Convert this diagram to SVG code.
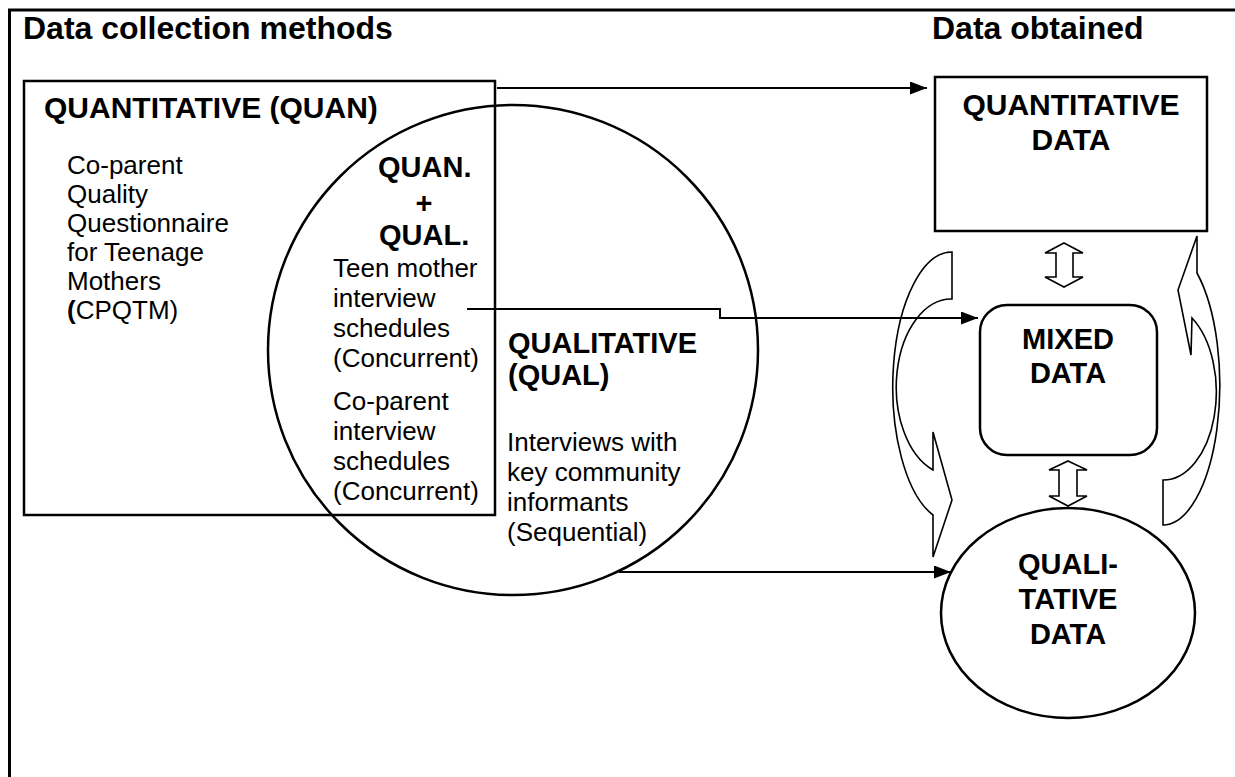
<svg xmlns="http://www.w3.org/2000/svg" width="1235" height="777" viewBox="0 0 1235 777">
  <defs>
    <marker id="head" markerUnits="userSpaceOnUse" markerWidth="17" markerHeight="13" refX="17" refY="6.5" orient="auto">
      <path d="M0,0 L17,6.5 L0,13 Z" fill="#000"/>
    </marker>
    <style>
      text { font-family: "Liberation Sans", Arial, sans-serif; fill: #000; }
      .title { font-size: 32px; font-weight: bold; }
      .sub { font-size: 30px; font-weight: bold; }
      .head { font-size: 29px; font-weight: bold; }
      .body { font-size: 26px; }
      .mid { text-anchor: middle; }
      .edge { fill: none; stroke: #000; stroke-width: 2.5; }
      .conn { fill: none; stroke: #000; stroke-width: 2; }
      .block { fill: none; stroke: #000; stroke-width: 1.6; stroke-linejoin: miter; }
    </style>
  </defs>

  <rect width="1235" height="777" fill="#fff"/>

  <!-- page frame: left and top rules only -->
  <path d="M9.5,777 V10 H1235" fill="none" stroke="#000" stroke-width="3"/>

  <text class="title" x="23" y="39">Data collection methods</text>
  <text class="title" x="932" y="39">Data obtained</text>

  <!-- quantitative method box -->
  <g id="quan-box">
    <rect class="edge" x="24" y="81" width="471" height="434"/>
    <text class="sub" x="44" y="118">QUANTITATIVE (QUAN)</text>
    <text class="body" x="67" y="174">Co-parent</text>
    <text class="body" x="67" y="203">Quality</text>
    <text class="body" x="67" y="232">Questionnaire</text>
    <text class="body" x="67" y="261">for Teenage</text>
    <text class="body" x="67" y="290">Mothers</text>
    <text class="body" x="67" y="319"><tspan font-weight="bold">(</tspan>CPQTM)</text>
  </g>

  <!-- qualitative method circle, overlapping the box -->
  <g id="qual-circle">
    <circle class="edge" cx="513" cy="350" r="245"/>
    <text class="head" x="378" y="177">QUAN.</text>
    <text class="head mid" x="424" y="213">+</text>
    <text class="head" x="379" y="245">QUAL.</text>
    <text class="body" x="333" y="277">Teen mother</text>
    <text class="body" x="333" y="307">interview</text>
    <text class="body" x="333" y="337">schedules</text>
    <text class="body" x="333" y="367">(Concurrent)</text>
    <text class="body" x="333" y="410">Co-parent</text>
    <text class="body" x="333" y="440">interview</text>
    <text class="body" x="333" y="470">schedules</text>
    <text class="body" x="333" y="500">(Concurrent)</text>
    <text class="head" x="508" y="353">QUALITATIVE</text>
    <text class="head" x="508" y="385">(QUAL)</text>
    <text class="body" x="507" y="451">Interviews with</text>
    <text class="body" x="507" y="481">key community</text>
    <text class="body" x="507" y="511">informants</text>
    <text class="body" x="507" y="541">(Sequential)</text>
  </g>

  <g id="quan-data">
    <rect class="edge" x="935" y="77" width="272" height="154"/>
    <text class="sub mid" x="1071" y="115">QUANTITATIVE</text>
    <text class="sub mid" x="1071" y="150">DATA</text>
  </g>

  <g id="mixed-data">
    <rect class="edge" x="980" y="305" width="177" height="150" rx="27" ry="27"/>
    <text class="head mid" x="1068" y="349">MIXED</text>
    <text class="head mid" x="1068" y="383">DATA</text>
  </g>

  <g id="qual-data">
    <ellipse class="edge" cx="1068" cy="613" rx="127" ry="105"/>
    <text class="head mid" x="1068" y="574">QUALI-</text>
    <text class="head mid" x="1068" y="609">TATIVE</text>
    <text class="head mid" x="1068" y="644">DATA</text>
  </g>

  <!-- connectors -->
  <g id="connectors">
    <path class="conn" d="M497,88 H927" marker-end="url(#head)"/>
    <path class="conn" d="M467,309 H720 V318 H978" marker-end="url(#head)"/>
    <path class="conn" d="M619,572 H951" marker-end="url(#head)"/>

    <!-- two-way block arrows between the data boxes -->
    <path class="block" d="M1064,243 L1083,253 H1073 V277 H1083 L1064,287 L1045,277 H1056 V253 H1045 Z"/>
    <path class="block" d="M1068,461 L1087,470 H1077 V496 H1087 L1068,506 L1049,496 H1059 V470 H1049 Z"/>

    <!-- curved block arrow on the left: tail at top, head pointing right at bottom -->
    <path class="block" d="M952,252 A59,135 0 0,0 933,515 V557 L952,500 L933,432 V470 A55,88 0 0,1 952,299 Z"/>

    <!-- curved block arrow on the right: tail at bottom, head pointing left at top -->
    <path class="block" d="M1163,525 A57,140 0 0,0 1197,273 V236 L1178,290 L1191,355 L1192,318 A53,88 0 0,1 1163,480 Z"/>
  </g>
</svg>
